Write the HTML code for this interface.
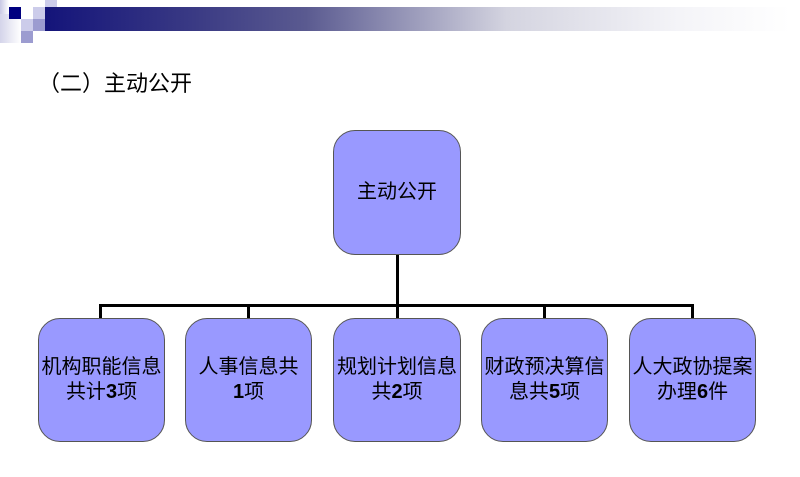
<!DOCTYPE html>
<html><head><meta charset="utf-8"><style>
body{margin:0;width:800px;height:477px;background:#fff;position:relative;overflow:hidden;font-family:"Liberation Sans","Noto Sans CJK SC",sans-serif}
.a{position:absolute}
.n{position:absolute;background:#9999ff;border:1px solid #555;border-radius:22px;box-sizing:border-box;display:flex;align-items:center;justify-content:center;text-align:center;font-size:20px;line-height:25px;color:#000}
.n div{white-space:nowrap}
.l{position:absolute;background:#000}
</style></head><body>
<div class="a" style="left:0;top:0;width:9px;height:14px;background:linear-gradient(90deg,#c8c8e4,#fff)"></div>
<div class="a" style="left:0;top:14px;width:21px;height:29px;background:linear-gradient(90deg,#d4d4ea,#fff)"></div>
<div class="a" style="left:9px;top:7px;width:12px;height:12px;background:#000080"></div>
<div class="a" style="left:33px;top:7px;width:12px;height:12px;background:#ccccea"></div>
<div class="a" style="left:45px;top:0;width:12px;height:7px;background:#ccccea"></div>
<div class="a" style="left:45px;top:7px;width:12px;height:12px;background:#9c9cd0"></div>
<div class="a" style="left:21px;top:19px;width:12px;height:12px;background:#ccccea"></div>
<div class="a" style="left:33px;top:19px;width:12px;height:12px;background:#9c9cd0"></div>
<div class="a" style="left:21px;top:31px;width:12px;height:12px;background:#9c9cd0"></div>
<div class="a" style="left:45px;top:7px;width:745px;height:24px;background:linear-gradient(90deg,#14147a 0%,#3a3a84 20%,#5a5a90 35%,#d4d4e0 62%,#f4f4f8 85%,#fff 100%)"></div>
<div class="a" style="left:38px;top:70px;font-size:22px;line-height:28px;white-space:nowrap">（二）主动公开</div>
<div class="l" style="left:396px;top:255px;width:3px;height:52px"></div>
<div class="l" style="left:99px;top:304px;width:595px;height:3px"></div>
<div class="l" style="left:99px;top:304px;width:3px;height:15px"></div>
<div class="l" style="left:247px;top:304px;width:3px;height:15px"></div>
<div class="l" style="left:396px;top:304px;width:3px;height:15px"></div>
<div class="l" style="left:543px;top:304px;width:3px;height:15px"></div>
<div class="l" style="left:691px;top:304px;width:3px;height:15px"></div>
<div class="n" style="left:333px;top:130px;width:128px;height:125px"><div>主动公开</div></div>
<div class="n" style="left:38px;top:318px;width:127px;height:124px"><div>机构职能信息<br>共计<b>3</b>项</div></div>
<div class="n" style="left:185px;top:318px;width:127px;height:124px"><div>人事信息共<br><b>1</b>项</div></div>
<div class="n" style="left:333px;top:318px;width:128px;height:124px"><div>规划计划信息<br>共<b>2</b>项</div></div>
<div class="n" style="left:481px;top:318px;width:127px;height:124px"><div>财政预决算信<br>息共<b>5</b>项</div></div>
<div class="n" style="left:629px;top:318px;width:127px;height:124px"><div>人大政协提案<br>办理<b>6</b>件</div></div>
</body></html>
